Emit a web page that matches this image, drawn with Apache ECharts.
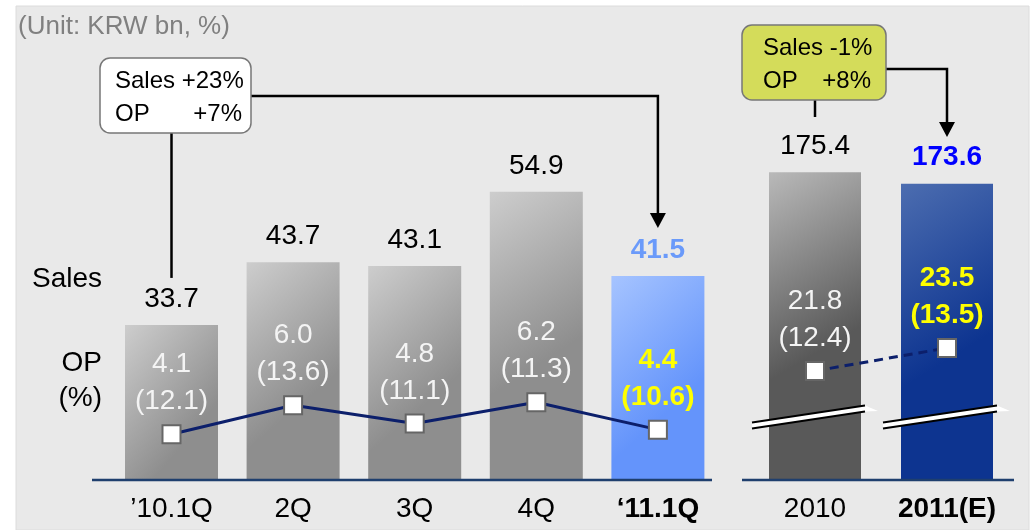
<!DOCTYPE html>
<html>
<head>
<meta charset="utf-8">
<script src="https://cdn.jsdelivr.net/npm/echarts@6/dist/echarts.min.js"></script>
<style>
html,body{margin:0;padding:0;background:#fff;}
#c{width:1031px;height:530px;}
</style>
</head>
<body>
<div id="c"></div>
<script>
const quarters = ['\u201910.1Q', '2Q', '3Q', '4Q', '\u201811.1Q'];
const quarterSales = [33.7, 43.7, 43.1, 54.9, 41.5];
const quarterOP = [4.1, 6.0, 4.8, 6.2, 4.4];
const quarterMargin = [12.1, 13.6, 11.1, 11.3, 10.6];
const years = ['2010', '2011(E)'];
const yearSales = [175.4, 173.6];
const yearOP = [21.8, 23.5];
const yearMargin = [12.4, 13.5];
const unitText = '(Unit: KRW bn, %)';

const FONT = "'Liberation Sans', Arial, sans-serif";
const chart = echarts.init(document.getElementById('c'), null, {renderer: 'canvas'});

function grad(c1, c2) {
  return new echarts.graphic.LinearGradient(0, 0, 1, 0.5, [
    {offset: 0, color: c1}, {offset: 1, color: c2}
  ]);
}
const grayBar = grad('#cdcdcd', '#8e8e8e');
const lightBlueBar = grad('#a6c4ff', '#6494fb');
const darkGrayBar = grad('#b9b9b9', '#595959');
const navyBar = grad('#4c6db0', '#0d3490');

const lastQ = quarters.length - 1;
const qBarData = quarterSales.map((v, i) => ({
  value: v,
  itemStyle: {color: i === lastQ ? lightBlueBar : grayBar},
  label: i === lastQ ? {color: '#6a9afa', fontWeight: 'bold'} : {}
}));
const yBarData = yearSales.map((v, i) => ({
  value: v,
  itemStyle: {color: i === 0 ? darkGrayBar : navyBar},
  label: i === 1 ? {color: '#0000ff', fontWeight: 'bold'} : {}
}));
const opLabel = (margins) => (p) => p.value.toFixed(1) + '\n(' + margins[p.dataIndex].toFixed(1) + ')';
const qLineData = quarterOP.map((v, i) => ({
  value: v,
  label: i === lastQ ? {color: '#ffff00', fontWeight: 'bold'} : {}
}));
const yLineData = yearOP.map((v, i) => ({
  value: v,
  label: i === 1 ? {color: '#ffff00', fontWeight: 'bold'} : {}
}));

const catLabel = {fontFamily: FONT, fontSize: 28, color: '#000', margin: 15, lineHeight: 28};

chart.setOption({
  animation: false,
  grid: [
    {left: 110.7, top: 97, width: 608, height: 383},
    {left: 749, top: 97, width: 264, height: 383}
  ],
  xAxis: [
    {type: 'category', gridIndex: 0,
     data: quarters.map((q, i) => i === lastQ ? {value: q, textStyle: {fontWeight: 'bold'}} : q),
     axisLine: {show: false}, axisTick: {show: false}, axisLabel: catLabel},
    {type: 'category', gridIndex: 1,
     data: years.map((q, i) => i === 1 ? {value: q, textStyle: {fontWeight: 'bold'}} : q),
     axisLine: {show: false}, axisTick: {show: false}, axisLabel: catLabel}
  ],
  yAxis: [
    {type: 'value', gridIndex: 0, min: 9, max: 70, show: false},
    {type: 'value', gridIndex: 0, min: 1.1, max: 26.2, show: false},
    {type: 'value', gridIndex: 1, min: 126.4, max: 187.4, show: false},
    {type: 'value', gridIndex: 1, min: 13.74, max: 42.05, show: false}
  ],
  series: [
    {type: 'bar', xAxisIndex: 0, yAxisIndex: 0, data: qBarData, barWidth: 93, z: 2,
     label: {show: true, position: 'top', distance: 12, fontFamily: FONT, fontSize: 28, color: '#000', lineHeight: 28}},
    {type: 'bar', xAxisIndex: 1, yAxisIndex: 2, data: yBarData, barWidth: 92, z: 2,
     label: {show: true, position: 'top', distance: 12, fontFamily: FONT, fontSize: 28, color: '#000', lineHeight: 28}},
    {type: 'line', xAxisIndex: 0, yAxisIndex: 1, data: qLineData, z: 5,
     symbol: 'rect', symbolSize: 18,
     lineStyle: {color: '#0c1f6b', width: 3},
     itemStyle: {color: '#fff', borderColor: '#666', borderWidth: 2},
     label: {show: true, position: 'top', distance: 4, fontFamily: FONT, fontSize: 28, lineHeight: 37,
             color: '#f4f4f4', formatter: opLabel(quarterMargin)}},
    {type: 'line', xAxisIndex: 1, yAxisIndex: 3, data: yLineData, z: 5,
     symbol: 'rect', symbolSize: 18,
     lineStyle: {color: '#0c1f6b', width: 3, type: [9, 6]},
     itemStyle: {color: '#fff', borderColor: '#666', borderWidth: 2},
     label: {show: true, position: 'top', distance: 4, fontFamily: FONT, fontSize: 28, lineHeight: 37,
             color: '#f4f4f4', formatter: opLabel(yearMargin)}}
  ]
});

// decorations computed from the chart's own scales
const px = (si, i, v) => chart.convertToPixel({seriesIndex: si}, [i, v]);
const q0 = px(0, 0, quarterSales[0]);
const qL = px(0, lastQ, quarterSales[lastQ]);
const y0 = px(1, 0, yearSales[0]);
const y1 = px(1, 1, yearSales[1]);
const baseY = px(0, 0, 9)[1];

function txt(t, x, y, opts) {
  return Object.assign({type: 'text', z: 20, style: {
    text: t, x: x, y: y, font: (opts && opts.font) || ('24px ' + FONT),
    fill: (opts && opts.fill) || '#000',
    textAlign: (opts && opts.align) || 'left', align: (opts && opts.align) || 'left',
    textVerticalAlign: 'middle', verticalAlign: 'middle'
  }});
}
function line(pts, color, w) {
  return {type: 'polyline', z: 18, shape: {points: pts}, style: {stroke: color || '#000', lineWidth: w || 2.5, fill: null}};
}
function arrowHead(x, tipY) {
  return {type: 'polygon', z: 18, shape: {points: [[x - 8, tipY - 15], [x + 8, tipY - 15], [x, tipY]]}, style: {fill: '#000'}};
}
function breakMark(xl, xr, yc) {
  const d = 8.5;
  const top = [[xl, yc + d - 3], [xr, yc - d - 3]];
  const bot = [[xl, yc + d + 3], [xr, yc - d + 3]];
  return [
    {type: 'polygon', z: 19, shape: {points: [top[0], top[1], [xr + 13, yc - d + 2.5], bot[1], bot[0]]}, style: {fill: '#fff'}},
    {type: 'polyline', z: 19, shape: {points: top}, style: {stroke: '#000', lineWidth: 2.2, fill: null}},
    {type: 'polyline', z: 19, shape: {points: bot}, style: {stroke: '#000', lineWidth: 2.2, fill: null}}
  ];
}

const g = [
  {type: 'rect', z: -10, shape: {x: 16, y: 6, width: 1013, height: 524}, style: {fill: '#e9e9e9', stroke: '#dcdcdc', lineWidth: 1}},
  txt(unitText, 18, 27, {font: '26px ' + FONT, fill: '#808080'}),
  txt('Sales', 102, 279, {font: '28px ' + FONT, align: 'right'}),
  txt('OP', 102, 363, {font: '28px ' + FONT, align: 'right'}),
  txt('(%)', 102, 398, {font: '28px ' + FONT, align: 'right'}),
  line([[92, baseY], [712, baseY]], '#1f3f6e', 2.5),
  line([[742, baseY], [1014, baseY]], '#1f3f6e', 2.5),
  // box 1
  line([[q0[0], 133], [q0[0], q0[1] - 47]], '#000', 2.5),
  line([[251, 96], [qL[0], 96], [qL[0], qL[1] - 62]], '#000', 2.5),
  arrowHead(qL[0], qL[1] - 48),
  {type: 'rect', z: 19, shape: {x: 100, y: 58, width: 151, height: 75, r: 10}, style: {fill: '#fff', stroke: '#777', lineWidth: 1.5}},
  txt('Sales +23%', 115, 81),
  txt('OP', 115, 114),
  txt('+7%', 242, 114, {align: 'right'}),
  // box 2
  line([[y0[0], 100], [y0[0], 117]], '#000', 2.5),
  line([[886, 69], [y1[0], 69], [y1[0], 125]], '#000', 2.5),
  arrowHead(y1[0], 137),
  {type: 'rect', z: 19, shape: {x: 742, y: 25, width: 144, height: 75, r: 10}, style: {fill: '#d4dc5a', stroke: '#777', lineWidth: 1.5}},
  txt('Sales -1%', 763, 48),
  txt('OP', 763, 81),
  txt('+8%', 871, 81, {align: 'right'})
].concat(
  breakMark(y0[0] - 63, y0[0] + 50, 417),
  breakMark(y1[0] - 64, y1[0] + 50, 417)
);
chart.setOption({graphic: g});
</script>
</body>
</html>
